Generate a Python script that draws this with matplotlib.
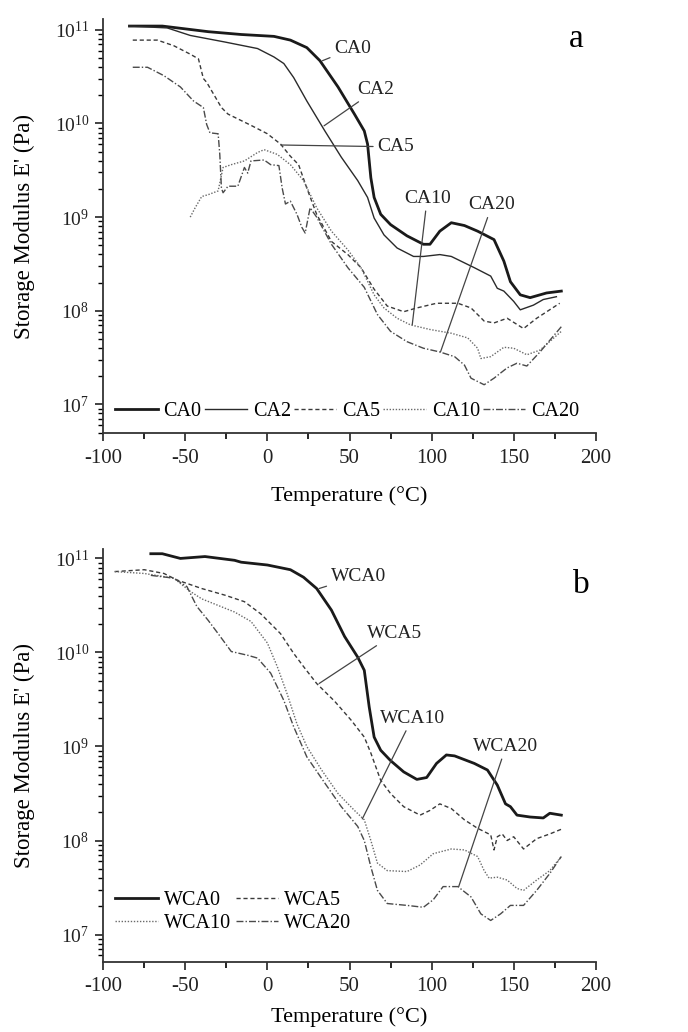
import numpy as np
import matplotlib
matplotlib.use("Agg")
import matplotlib.pyplot as plt
from matplotlib.ticker import LogLocator, MultipleLocator, NullFormatter

plt.rcParams["font.family"] = ["Liberation Serif", "DejaVu Serif"]
plt.rcParams["mathtext.fontset"] = "stix"
plt.rcParams["axes.unicode_minus"] = False

# ---- panel a : log10(E') ----
ca0_t = [-84, -64, -36, -16, 4, 14, 24, 32, 43, 53, 59, 61, 63, 65, 69, 75, 85, 95, 99,
         105, 112, 120, 128, 138, 144, 148, 154, 160, 170, 179]
ca0_e = [11.04, 11.04, 10.98, 10.95, 10.93, 10.89, 10.81, 10.67, 10.39, 10.10, 9.92, 9.78,
         9.42, 9.21, 9.03, 8.92, 8.80, 8.71, 8.71, 8.85, 8.94, 8.91, 8.85, 8.76, 8.53,
         8.31, 8.17, 8.14, 8.19, 8.21]

ca2_t = [-84, -61, -47, -26, -6, 4, 10, 16, 24, 35, 45, 55, 61, 65, 71, 79, 89, 95, 105,
         112, 126, 136, 140, 144, 150, 154, 162, 168, 176]
ca2_e = [11.04, 11.02, 10.94, 10.87, 10.80, 10.71, 10.64, 10.49, 10.24, 9.92, 9.64, 9.39,
         9.21, 8.99, 8.81, 8.67, 8.58, 8.58, 8.60, 8.58, 8.46, 8.37, 8.24, 8.21, 8.10,
         8.01, 8.06, 8.12, 8.15]

ca5_t = [-82, -67, -57, -47, -42, -39, -37, -28, -24, -10, 0, 8, 14, 19, 24, 30, 39, 49,
         57, 65, 73, 83, 91, 103, 116, 124, 132, 138, 146, 156, 164, 178]
ca5_e = [10.89, 10.89, 10.83, 10.74, 10.69, 10.48, 10.44, 10.17, 10.10, 9.98, 9.89, 9.78,
         9.65, 9.56, 9.31, 9.03, 8.74, 8.60, 8.46, 8.23, 8.05, 7.99, 8.03, 8.08, 8.08,
         8.03, 7.89, 7.87, 7.92, 7.81, 7.92, 8.08]

ca10_t = [-47, -44, -40, -36, -30, -27, -22, -14, -6, -2, 6, 14, 22, 30, 39, 49, 57, 65,
          71, 79, 87, 99, 112, 122, 128, 130, 136, 144, 150, 158, 166, 179]
ca10_e = [9.00, 9.10, 9.22, 9.24, 9.28, 9.53, 9.56, 9.60, 9.69, 9.72, 9.67, 9.56, 9.39,
          9.10, 8.85, 8.65, 8.46, 8.17, 8.03, 7.92, 7.85, 7.80, 7.76, 7.71, 7.60, 7.49,
          7.51, 7.61, 7.60, 7.53, 7.58, 7.78]

ca20_t = [-82, -73, -63, -53, -45, -39, -37, -35, -30, -29, -28, -27, -24, -18, -14, -12,
          -10, -2, 2, 7, 9, 11, 14, 18, 21, 23, 26, 30, 39, 49, 59, 67, 75, 85, 95, 105,
          114, 120, 124, 132, 138, 146, 152, 158, 166, 179]
ca20_e = [10.60, 10.60, 10.51, 10.39, 10.24, 10.17, 9.99, 9.90, 9.89, 9.67, 9.31, 9.26,
          9.33, 9.33, 9.53, 9.47, 9.60, 9.61, 9.56, 9.55, 9.31, 9.14, 9.17, 9.03, 8.89,
          8.83, 9.10, 9.00, 8.71, 8.46, 8.25, 7.96, 7.78, 7.67, 7.60, 7.56, 7.51, 7.42,
          7.28, 7.21, 7.28, 7.39, 7.44, 7.41, 7.56, 7.83]

# ---- panel b ----
wca0_t = [-71, -64, -53, -38, -20, -16, 0, 14, 22, 30, 39, 47, 55, 59, 62, 65, 69, 75, 83,
          91, 97, 103, 109, 114, 126, 134, 140, 145, 148, 152, 160, 168, 172, 179]
wca0_e = [11.05, 11.05, 11.00, 11.02, 10.98, 10.96, 10.93, 10.88, 10.80, 10.68, 10.45,
          10.17, 9.95, 9.81, 9.42, 9.10, 8.96, 8.85, 8.73, 8.65, 8.67, 8.82, 8.91, 8.90,
          8.82, 8.75, 8.59, 8.39, 8.36, 8.27, 8.25, 8.24, 8.29, 8.27]

wca5_t = [-93, -75, -63, -55, -40, -26, -14, -4, 8, 16, 22, 30, 41, 51, 59, 63, 69, 75, 83,
          93, 99, 105, 112, 120, 128, 136, 138, 140, 143, 146, 150, 156, 164, 172, 179]
wca5_e = [10.86, 10.88, 10.84, 10.77, 10.68, 10.61, 10.54, 10.41, 10.20, 9.99, 9.85, 9.67,
          9.48, 9.28, 9.10, 8.93, 8.64, 8.50, 8.36, 8.27, 8.32, 8.39, 8.34, 8.22, 8.13,
          8.06, 7.90, 8.04, 8.07, 8.00, 8.04, 7.91, 8.02, 8.07, 8.12]

wca10_t = [-93, -75, -57, -47, -40, -30, -20, -10, 0, 6, 12, 18, 24, 33, 43, 53, 59, 63,
           67, 73, 85, 93, 101, 112, 120, 128, 132, 135, 140, 146, 152, 156, 164, 172, 179]
wca10_e = [10.86, 10.84, 10.79, 10.65, 10.57, 10.50, 10.43, 10.33, 10.10, 9.85, 9.56, 9.24,
           9.00, 8.75, 8.50, 8.32, 8.22, 8.00, 7.76, 7.68, 7.67, 7.74, 7.86, 7.91, 7.90,
           7.83, 7.68, 7.60, 7.61, 7.58, 7.49, 7.47, 7.58, 7.68, 7.83]

wca20_t = [-71, -57, -49, -43, -36, -30, -22, -12, -6, 2, 10, 16, 24, 35, 45, 55, 59, 63,
           67, 73, 85, 95, 101, 107, 116, 124, 130, 136, 142, 148, 156, 164, 172, 179]
wca20_e = [10.82, 10.79, 10.70, 10.49, 10.34, 10.20, 10.01, 9.97, 9.94, 9.78, 9.49, 9.21,
           8.89, 8.61, 8.36, 8.15, 8.00, 7.72, 7.47, 7.33, 7.31, 7.29, 7.37, 7.51, 7.51,
           7.40, 7.22, 7.15, 7.22, 7.31, 7.31, 7.47, 7.65, 7.83]

# curve labels: (text, text T, text logE, alignment, point T, point logE)
labels_a = [("CA0", 40.6, 10.80, "left", 33.5, 10.67),
            ("CA2", 54.8, 10.36, "left", 34.5, 9.975),
            ("CA5", 66.9, 9.75, "left", 8.2, 9.77),
            ("CA10", 97.3, 9.20, "center", 88.2, 7.85),
            ("CA20", 136.8, 9.13, "center", 105.4, 7.56)]
labels_b = [("WCA0", 38.5, 10.81, "left", 31.5, 10.68),
            ("WCA5", 60.8, 10.20, "left", 31.5, 9.67),
            ("WCA10", 88.2, 9.30, "center", 57.8, 8.23),
            ("WCA20", 145.3, 9.00, "center", 116.5, 7.51)]

styles = [dict(color="#1a1a1a", lw=2.0, ls="-"),
          dict(color="#2a2a2a", lw=1.0, ls="-"),
          dict(color="#3a3a3a", lw=1.0, ls=(0, (3, 2))),
          dict(color="#6a6a6a", lw=1.0, ls=(0, (1, 1.2))),
          dict(color="#4a4a4a", lw=1.0, ls=(0, (5, 1.5, 1, 1.5)))]

fig = plt.figure(figsize=(6.88, 10.32), dpi=100)
ax_a = fig.add_axes([0.150, 0.580, 0.716, 0.402])
ax_b = fig.add_axes([0.150, 0.068, 0.716, 0.400])


def setup(ax, ylog, xpad):
    ax.set_yscale("log")
    ax.set_xlim(-100, 200)
    ax.set_ylim(10 ** ylog[0], 10 ** ylog[1])
    ax.spines["top"].set_visible(False)
    ax.spines["right"].set_visible(False)
    for s in ("left", "bottom"):
        ax.spines[s].set_linewidth(1.3)
        ax.spines[s].set_color("#333333")
    ax.xaxis.set_major_locator(MultipleLocator(50))
    ax.xaxis.set_minor_locator(MultipleLocator(25))
    ax.yaxis.set_major_locator(LogLocator(base=10, numticks=10))
    ax.yaxis.set_minor_locator(LogLocator(base=10, subs=np.arange(2, 10), numticks=20))
    ax.yaxis.set_minor_formatter(NullFormatter())
    ax.tick_params(axis="x", which="major", direction="out", length=6, width=1.2,
                   labelsize=15, pad=5, colors="#222222")
    ax.tick_params(axis="x", which="minor", direction="out", length=4, width=1.2)
    ax.tick_params(axis="y", which="major", direction="out", length=6, width=1.2,
                   labelsize=14, pad=4, colors="#222222")
    ax.tick_params(axis="y", which="minor", direction="out", length=3.5, width=1.0)
    ax.set_xlabel("Temperature (°C)", fontsize=16, labelpad=xpad)
    ax.set_ylabel("Storage Modulus E' (Pa)", fontsize=16.5, labelpad=14)


def draw_labels(ax, labels):
    for name, tx, ty, ha, px, py in labels:
        ax.annotate(name, xy=(px, 10 ** py), xytext=(tx, 10 ** ty), fontsize=14,
                    ha=ha, va="center", color="#222222",
                    arrowprops=dict(arrowstyle="-", color="#444444", lw=0.9,
                                    shrinkA=1, shrinkB=0))


# panel a
setup(ax_a, (6.69, 11.12), 13)
series_a = [("CA0", ca0_t, ca0_e), ("CA2", ca2_t, ca2_e), ("CA5", ca5_t, ca5_e),
            ("CA10", ca10_t, ca10_e), ("CA20", ca20_t, ca20_e)]
handles_a = []
for (name, t, e), st in zip(series_a, styles):
    h, = ax_a.plot(t, 10 ** np.array(e), label=name, **st)
    handles_a.append(h)
draw_labels(ax_a, labels_a)
ax_a.legend(handles=handles_a, loc="lower left", bbox_to_anchor=(0.0, 0.0), ncol=5,
            frameon=False, fontsize=14.5, handlelength=2.1, handletextpad=0.3,
            columnspacing=0.15, borderaxespad=0.2)
ax_a.text(188, 10 ** 10.9, "a", fontsize=24, ha="center", va="center")

# panel b
setup(ax_b, (6.71, 11.10), 8)
series_b = [("WCA0", wca0_t, wca0_e), ("WCA5", wca5_t, wca5_e),
            ("WCA10", wca10_t, wca10_e), ("WCA20", wca20_t, wca20_e)]
styles_b = [styles[0], styles[2], styles[3], styles[4]]
handles_b = []
for (name, t, e), st in zip(series_b, styles_b):
    h, = ax_b.plot(t, 10 ** np.array(e), label=name, **st)
    handles_b.append(h)
draw_labels(ax_b, labels_b)
order = [0, 2, 1, 3]
ax_b.legend(handles=[handles_b[i] for i in order], loc="lower left",
            bbox_to_anchor=(0.0, 0.04), ncol=2, frameon=False, fontsize=14.5,
            handlelength=2.1, handletextpad=0.3, columnspacing=0.25,
            labelspacing=0.2, borderaxespad=0.2)
ax_b.text(191.5, 10 ** 10.72, "b", fontsize=24, ha="center", va="center")

fig.savefig("out.png", dpi=100)
